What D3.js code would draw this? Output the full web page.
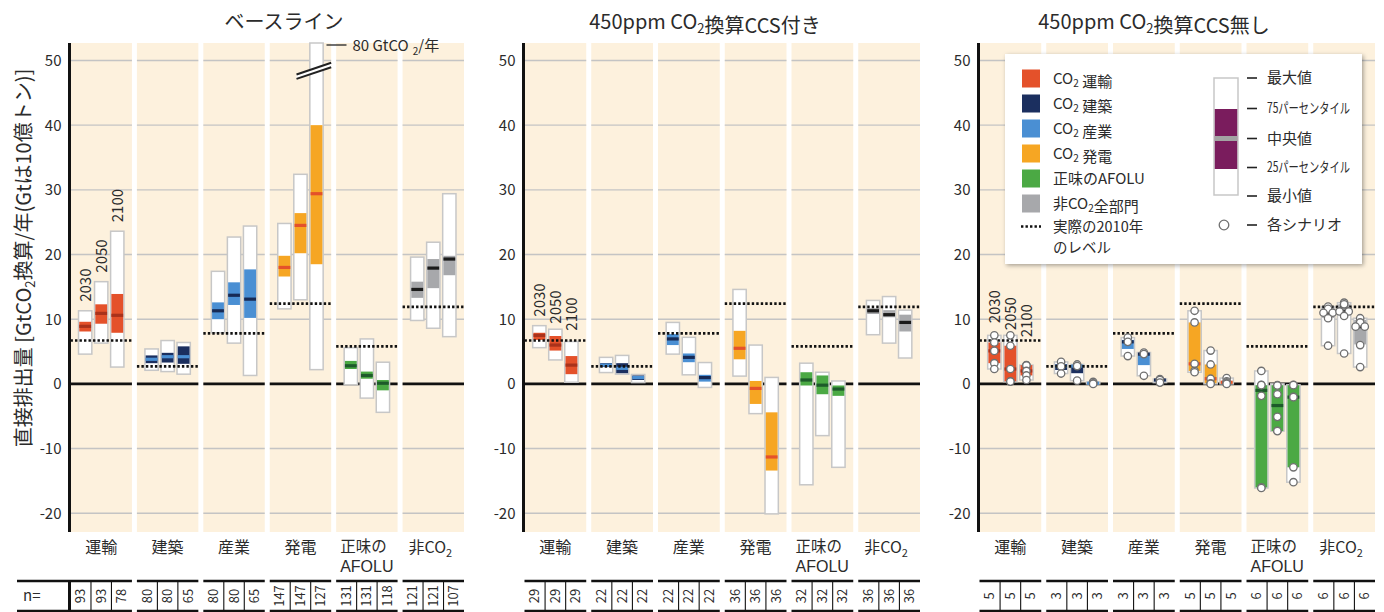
<!DOCTYPE html>
<html>
<head>
<meta charset="utf-8">
<script src="https://cdn.jsdelivr.net/npm/d3@7"></script>
<style>
  body { margin: 0; background: #ffffff; }
  svg { display: block; font-family: "Noto Sans CJK JP", "Noto Sans", sans-serif; }
</style>
</head>
<body>
<svg id="chart" width="1384" height="612"></svg>
<script>
// ---- data -------------------------------------------------------------
const categories = ["運輸", "建築", "産業", "発電", "正味のAFOLU", "非CO2"];
const years = ["2030", "2050", "2100"];
const yTicks = [-20, -10, 0, 10, 20, 30, 40, 50];
const levels2010 = [6.7, 2.7, 7.8, 12.4, 5.8, 11.9];

// [min, 25th pct, median, 75th pct, max] per sector, per year (2030, 2050, 2100)
const baselineStats = [
  [[4.6, 8.1, 8.9, 9.6, 11.3], [6.3, 9.3, 10.9, 12.3, 15.8], [2.6, 7.9, 10.6, 13.9, 23.6]],
  [[2.1, 3.2, 3.8, 4.4, 5.4], [1.9, 3.3, 4.2, 4.8, 6.7], [1.5, 3.1, 4.2, 5.8, 6.4]],
  [[7.9, 10.0, 11.3, 12.6, 17.4], [6.3, 12.2, 13.7, 15.7, 22.7], [1.3, 10.2, 13.1, 17.7, 24.4]],
  [[11.6, 16.6, 18.0, 19.8, 24.8], [13.0, 20.2, 24.5, 26.4, 32.4], [2.2, 18.5, 29.4, 40.0, 80]],
  [[-0.15, 2.3, 2.8, 3.55, 5.6], [-2.2, 0.8, 1.3, 1.9, 6.95], [-4.4, -1.0, 0.1, 0.6, 3.35]],
  [[9.8, 13.3, 14.6, 15.8, 19.6], [8.6, 14.8, 17.9, 19.3, 21.9], [7.3, 16.8, 19.3, 19.8, 29.4]]
];
const ccsStats = [
  [[5.6, 6.8, 7.5, 7.9, 9.0], [3.7, 5.15, 6.0, 7.4, 8.45], [0.25, 1.5, 2.9, 4.3, 6.55]],
  [[1.75, 2.6, 2.9, 3.2, 4.1], [1.5, 1.65, 2.4, 3.2, 4.4], [0.2, 0.6, 0.97, 1.3, 1.45]],
  [[4.6, 6.0, 6.95, 7.7, 9.5], [1.4, 3.35, 4.1, 4.7, 7.2], [-0.55, 0.35, 0.97, 1.4, 3.3]],
  [[1.2, 3.8, 5.5, 8.2, 14.6], [-4.6, -3.1, -0.7, 0.45, 6.0], [-20.1, -13.4, -11.3, -4.4, 1.0]],
  [[-15.6, -0.25, 0.6, 1.8, 3.2], [-8.0, -1.6, -0.2, 1.3, 1.8], [-12.9, -1.85, -0.8, -0.25, 0.45]],
  [[7.6, 10.8, 11.3, 11.7, 12.9], [6.3, 10.3, 10.7, 11.4, 13.5], [4.0, 8.1, 9.5, 10.7, 11.4]]
];
const noCcsStats = [
  [[2.3, 3.2, 5.1, 6.4, 7.5], [0.35, 0.4, 2.3, 5.9, 7.5], [0.6, 1.3, 2.0, 2.9, 2.9]],
  [[1.6, 2.15, 2.7, 3.05, 3.4], [0.5, 1.65, 2.75, 2.9, 3.0], [0.0, 0.05, 0.1, 0.2, 0.3]],
  [[4.3, 5.4, 6.5, 6.8, 7.15], [1.25, 2.9, 4.6, 4.7, 4.85], [0.2, 0.4, 0.6, 0.7, 0.75]],
  [[1.8, 2.0, 3.1, 9.5, 11.3], [0.0, 0.1, 0.8, 3.0, 5.15], [0.0, 0.1, 0.25, 0.4, 0.9]],
  [[-16.1, -16.0, -1.0, -0.2, 2.0], [-7.3, -7.3, -3.35, -0.2, 0.0], [-15.2, -12.9, -2.05, -0.2, -0.15]],
  [[5.9, 10.2, 11.0, 11.7, 11.95], [4.7, 10.7, 11.2, 12.3, 12.55], [2.6, 6.1, 8.85, 9.9, 10.15]]
];
// individual scenario values (450ppm without CCS)
const noCcsScenarios = [
  [[7.5, 6.4, 5.1, 3.2, 2.3], [7.5, 5.9, 2.3, 0.4, 0.35], [2.9, 2.85, 2.0, 1.3, 0.6]],
  [[3.4, 2.7, 1.6], [3.0, 2.75, 0.5], [0.3, 0.1, 0.0]],
  [[7.15, 6.5, 4.3], [4.85, 4.6, 1.25], [0.75, 0.6, 0.2]],
  [[11.3, 9.5, 3.1, 2.0, 1.8], [5.15, 3.0, 0.8, 0.1, 0.0], [0.9, 0.4, 0.25, 0.1, 0.0]],
  [[2.0, -0.15, -0.2, -1.85, -16.0, -16.1], [-0.2, -0.25, -1.6, -5.1, -7.25, -7.3], [-0.15, -0.2, -2.0, -2.05, -12.9, -15.2]],
  [[11.95, 11.6, 11.0, 11.0, 10.15, 5.9], [12.55, 12.3, 11.2, 11.2, 10.5, 4.7], [10.15, 9.5, 8.85, 8.85, 6.0, 2.6]]
];
const baselineN = [[93, 93, 78], [80, 80, 65], [80, 80, 65], [147, 147, 127], [131, 131, 118], [121, 121, 107]];
const ccsN = [[29, 29, 29], [22, 22, 22], [22, 22, 22], [36, 36, 36], [32, 32, 32], [36, 36, 36]];
const noCcsN = [[5, 5, 5], [3, 3, 3], [3, 3, 3], [5, 5, 5], [6, 6, 6], [6, 6, 6]];

const legendLabels = ["CO2 運輸", "CO2 建築", "CO2 産業", "CO2 発電", "正味のAFOLU", "非CO2全部門"];
const keyLabels = ["最大値", "75パーセンタイル", "中央値", "25パーセンタイル", "最小値"];

// ---- styling ----------------------------------------------------------
const sectorFill = ["#e4512a", "#1b2f5f", "#4a8fd3", "#f6a623", "#4ba944", "#a7a8ab"];
const sectorMedian = ["#a9321b", "#4a8fd3", "#172a55", "#e4512a", "#1d5a2a", "#1b1b1b"];
const beige = "#fdf1dd";
const textColor = "#2b2b2b";
const latinFont = "'Liberation Sans', Arial, sans-serif";

const svg = d3.select("#chart");
const y = d3.scaleLinear().domain([-22.9, 52.7]).range([532, 43]);
const plotTop = y.range()[1], plotBottom = y.range()[0];

// text with "2" subscripts written as segments
function richText(sel, str, size, subSize) {
  const parts = str.split(/(CO2)/).filter(s => s.length);
  parts.forEach(p => {
    if (p === "CO2") {
      sel.append("tspan").text("CO");
      sel.append("tspan").attr("font-size", subSize).attr("dy", size * 0.22).text("2");
      sel.append("tspan").attr("dy", -size * 0.22).text("");
    } else {
      sel.append("tspan").text(p);
    }
  });
  return sel;
}

const panels = [
  { title: "ベースライン", x0: 70.5, x1: 464, titleX: 284, stats: baselineStats, n: baselineN, pts: null },
  { title: "450ppm CO2換算CCS付き", x0: 524.5, x1: 920, titleX: 705, stats: ccsStats, n: ccsN, pts: null },
  { title: "450ppm CO2換算CCS無し", x0: 979.5, x1: 1375, titleX: 1154, stats: noCcsStats, n: noCcsN, pts: noCcsScenarios }
];

const xYear = d3.scaleBand().domain(years).range([-22.7, 22.7]).paddingInner(0.17);

// drop shadow for the key box
const defs = svg.append("defs");
const sh = defs.append("filter").attr("id", "shadow").attr("x", "-10%").attr("y", "-10%").attr("width", "120%").attr("height", "120%");
sh.append("feDropShadow").attr("dx", 1.5).attr("dy", 1.5).attr("stdDeviation", 2).attr("flood-color", "#000").attr("flood-opacity", 0.35);

panels.forEach((p, pi) => {
  const g = svg.append("g");
  const x = d3.scaleBand().domain(d3.range(categories.length)).range([p.x0, p.x1]).paddingInner(0.075).paddingOuter(0);
  const bw = x.bandwidth();

  // title
  richText(g.append("text").attr("x", p.titleX).attr("y", 29).attr("text-anchor", "middle")
    .attr("font-size", 20).attr("fill", textColor), p.title, 20, 13);

  // column backgrounds
  g.selectAll("rect.col").data(categories).join("rect")
    .attr("x", (d, i) => x(i)).attr("y", plotTop).attr("width", bw).attr("height", plotBottom - plotTop)
    .attr("fill", beige);

  // grid lines and zero line
  categories.forEach((c, i) => {
    g.selectAll(null).data(yTicks.filter(t => t !== 0)).join("line")
      .attr("x1", x(i)).attr("x2", x(i) + bw).attr("y1", d => y(d)).attr("y2", d => y(d))
      .attr("stroke", "#c4c4c4").attr("stroke-width", 1.4);
    g.append("line").attr("x1", x(i)).attr("x2", x(i) + bw).attr("y1", y(0)).attr("y2", y(0))
      .attr("stroke", "#111").attr("stroke-width", 2.6);
  });

  // tick labels
  g.selectAll("text.tick").data(yTicks).join("text")
    .attr("x", p.x0 - 9).attr("y", d => y(d)).attr("dy", "0.36em").attr("text-anchor", "end")
    .attr("font-size", 15).attr("fill", textColor).text(d => d);

  // boxes
  p.stats.forEach((sector, si) => {
    const cx = x(si) + bw / 2;
    sector.forEach((s, yi) => {
      const bx = cx + xYear(years[yi]);
      const w = xYear.bandwidth();
      const [mn, q1, md, q3, mx] = s;
      const top = y(Math.min(mx, y.domain()[1]));
      g.append("rect").attr("x", bx).attr("y", top).attr("width", w).attr("height", Math.max(y(mn) - top, 1.5))
        .attr("fill", "#fff").attr("stroke", "#c7c7c7").attr("stroke-width", 1.5);
      g.append("rect").attr("x", bx + 0.75).attr("y", y(q3)).attr("width", w - 1.5).attr("height", Math.max(y(q1) - y(q3), 1))
        .attr("fill", sectorFill[si]);
      g.append("rect").attr("x", bx + 0.75).attr("y", y(md) - 1.6).attr("width", w - 1.5).attr("height", 3.2)
        .attr("fill", sectorMedian[si]);

      // broken bar for values beyond the axis
      if (mx > y.domain()[1]) {
        const bcx = bx + w / 2, by = y(48.4);
        g.append("path")
          .attr("d", `M${bcx - 20},${by + 3.7} L${bcx + 14.7},${by - 8} L${bcx + 14.7},${by - 3.7} L${bcx - 20},${by + 8} Z`)
          .attr("fill", "#fff");
        [0, 4.4].forEach(off => {
          g.append("line").attr("x1", bcx - 20).attr("y1", by + 3.7 + off).attr("x2", bcx + 14.7).attr("y2", by - 8 + off)
            .attr("stroke", "#222").attr("stroke-width", 2);
        });
        g.append("line").attr("x1", bcx + 10).attr("x2", bcx + 30).attr("y1", 45).attr("y2", 45)
          .attr("stroke", "#222").attr("stroke-width", 1.3);
        const t = g.append("text").attr("x", bcx + 36).attr("y", 50.5).attr("font-size", 15).attr("fill", textColor);
        t.append("tspan").text(`${mx} GtCO`);
        t.append("tspan").attr("dx", 4).attr("dy", 4).attr("font-size", 10).text("2");
        t.append("tspan").attr("dy", -4).text("/年");
      }
    });
  });

  // actual 2010 levels
  g.selectAll("line.lvl").data(levels2010).join("line")
    .attr("x1", (d, i) => x(i)).attr("x2", (d, i) => x(i) + bw)
    .attr("y1", d => y(d)).attr("y2", d => y(d))
    .attr("stroke", "#111").attr("stroke-width", 2.6).attr("stroke-dasharray", "2.4,2.1");

  // individual scenarios
  if (p.pts) {
    p.pts.forEach((sector, si) => {
      const cx = x(si) + bw / 2;
      sector.forEach((vals, yi) => {
        const bcx = cx + xYear(years[yi]) + xYear.bandwidth() / 2;
        vals.forEach((v, k) => {
          const dup = vals.filter(u => u === v).length > 1;
          const first = vals.indexOf(v) === k;
          const off = dup ? (first ? -4.6 : 4.6) : 0;
          g.append("circle").attr("cx", bcx + off).attr("cy", y(v)).attr("r", 3.7)
            .attr("fill", "#fff").attr("stroke", "#707070").attr("stroke-width", 1.3);
        });
      });
    });
  }

  // y axis line
  g.append("line").attr("x1", p.x0 - 1).attr("x2", p.x0 - 1).attr("y1", plotTop).attr("y2", plotBottom)
    .attr("stroke", "#111").attr("stroke-width", 3);

  // year labels over the first sector
  const first = p.stats[0];
  const pad = p.pts ? 12 : 9;
  let prev = null;
  first.forEach((s, yi) => {
    const want = y(s[4]) - pad;
    const bottom = (prev === null || want < prev - 10) ? want : prev + 7;
    prev = bottom;
    const bcx = x(0) + bw / 2 + xYear(years[yi]) + xYear.bandwidth() / 2;
    g.append("text").attr("transform", `translate(${bcx + 5.5},${bottom}) rotate(-90)`)
      .attr("font-size", 15).attr("fill", textColor).text(years[yi]);
  });

  // category labels
  categories.forEach((c, i) => {
    const cx = x(i) + bw / 2;
    if (c.includes("AFOLU")) {
      const lx = x(i) + 4;
      g.append("text").attr("x", lx).attr("y", 552).attr("font-size", 15.5).attr("fill", textColor).text(c.replace("AFOLU", ""));
      g.append("text").attr("x", lx).attr("y", 571.5).attr("font-size", 16).attr("font-family", latinFont)
        .attr("fill", textColor).text("AFOLU");
    } else {
      richText(g.append("text").attr("x", cx - (c.includes("CO2") ? 3 : 0)).attr("y", 553).attr("text-anchor", "middle")
        .attr("font-size", 16).attr("fill", textColor), c, 16, 11);
    }
  });

  // scenario counts
  categories.forEach((c, i) => {
    const x0 = (pi === 0 && i === 0) ? 17 : x(i);
    const x1 = x(i) + bw;
    [581, 611].forEach(yy => g.append("line").attr("x1", x0).attr("x2", x1).attr("y1", yy).attr("y2", yy)
      .attr("stroke", "#111").attr("stroke-width", 2.4));
    [1, 2].forEach(k => g.append("line").attr("x1", x(i) + bw * k / 3).attr("x2", x(i) + bw * k / 3)
      .attr("y1", 581).attr("y2", 611).attr("stroke", "#111").attr("stroke-width", 1.1));
    p.n[i].forEach((n, k) => {
      const ccx = x(i) + bw * (k + 0.5) / 3;
      g.append("text").attr("transform", `translate(${ccx + 4.5},596) rotate(-90)`).attr("text-anchor", "middle")
        .attr("font-size", 13).attr("fill", textColor).text(n);
    });
  });
  if (pi === 0) {
    g.append("line").attr("x1", p.x0 - 1).attr("x2", p.x0 - 1).attr("y1", 581).attr("y2", 611)
      .attr("stroke", "#111").attr("stroke-width", 3);
    g.append("text").attr("x", 23).attr("y", 601).attr("font-size", 15).attr("fill", textColor).text("n=");
  }
});

// y axis title
const yt = svg.append("text").attr("transform", "translate(31,258) rotate(-90)").attr("text-anchor", "middle")
  .attr("font-size", 20).attr("fill", textColor);
yt.append("tspan").text("直接排出量 [GtCO");
yt.append("tspan").attr("font-size", 13).attr("dy", 4).text("2");
yt.append("tspan").attr("dy", -4).text("換算/年(Gtは10億トン)]");

// ---- key --------------------------------------------------------------
const key = svg.append("g");
key.append("rect").attr("x", 1005).attr("y", 54).attr("width", 357).attr("height", 210)
  .attr("fill", "#fff").attr("filter", "url(#shadow)");

legendLabels.forEach((lab, i) => {
  const cy = 78.5 + i * 25;
  key.append("rect").attr("x", 1022).attr("y", cy - 9).attr("width", 18).attr("height", 18).attr("fill", sectorFill[i]);
  richText(key.append("text").attr("x", 1053).attr("y", cy).attr("dy", "0.35em").attr("font-size", 15).attr("fill", textColor), lab, 15, 10);
});
key.append("line").attr("x1", 1021).attr("x2", 1041).attr("y1", 226.5).attr("y2", 226.5)
  .attr("stroke", "#111").attr("stroke-width", 2.4).attr("stroke-dasharray", "2.4,2.1");
key.append("text").attr("x", 1053).attr("y", 226.5).attr("dy", "0.35em").attr("font-size", 14.5).attr("fill", textColor).text("実際の2010年");
key.append("text").attr("x", 1053).attr("y", 247.8).attr("dy", "0.35em").attr("font-size", 14.5).attr("fill", textColor).text("のレベル");

// box explanation
const kx = 1214, kw = 24;
key.append("rect").attr("x", kx).attr("y", 78).attr("width", kw).attr("height", 117)
  .attr("fill", "#fff").attr("stroke", "#c7c7c7").attr("stroke-width", 1.5);
key.append("rect").attr("x", kx + 0.75).attr("y", 109).attr("width", kw - 1.5).attr("height", 60).attr("fill", "#7a1c5d");
key.append("rect").attr("x", kx + 0.75).attr("y", 136).attr("width", kw - 1.5).attr("height", 5).attr("fill", "#a3a3a3");
const keyRows = [78, 108.5, 138.5, 167.5, 196];
keyLabels.forEach((lab, i) => {
  key.append("line").attr("x1", 1247).attr("x2", 1257).attr("y1", keyRows[i]).attr("y2", keyRows[i])
    .attr("stroke", "#222").attr("stroke-width", 1.6);
  const small = lab.includes("パーセンタイル");
  const t = key.append("text").attr("x", 1267).attr("y", keyRows[i]).attr("dy", "0.35em")
    .attr("font-size", small ? 14 : 15).attr("fill", textColor).text(lab);
  if (small) t.attr("textLength", 83).attr("lengthAdjust", "spacingAndGlyphs");
});
key.append("circle").attr("cx", 1224).attr("cy", 225).attr("r", 4.8).attr("fill", "#fff").attr("stroke", "#707070").attr("stroke-width", 1.3);
key.append("line").attr("x1", 1247).attr("x2", 1257).attr("y1", 225).attr("y2", 225).attr("stroke", "#222").attr("stroke-width", 1.6);
key.append("text").attr("x", 1267).attr("y", 225).attr("dy", "0.35em").attr("font-size", 15).attr("fill", textColor).text("各シナリオ");
</script>
</body>
</html>
